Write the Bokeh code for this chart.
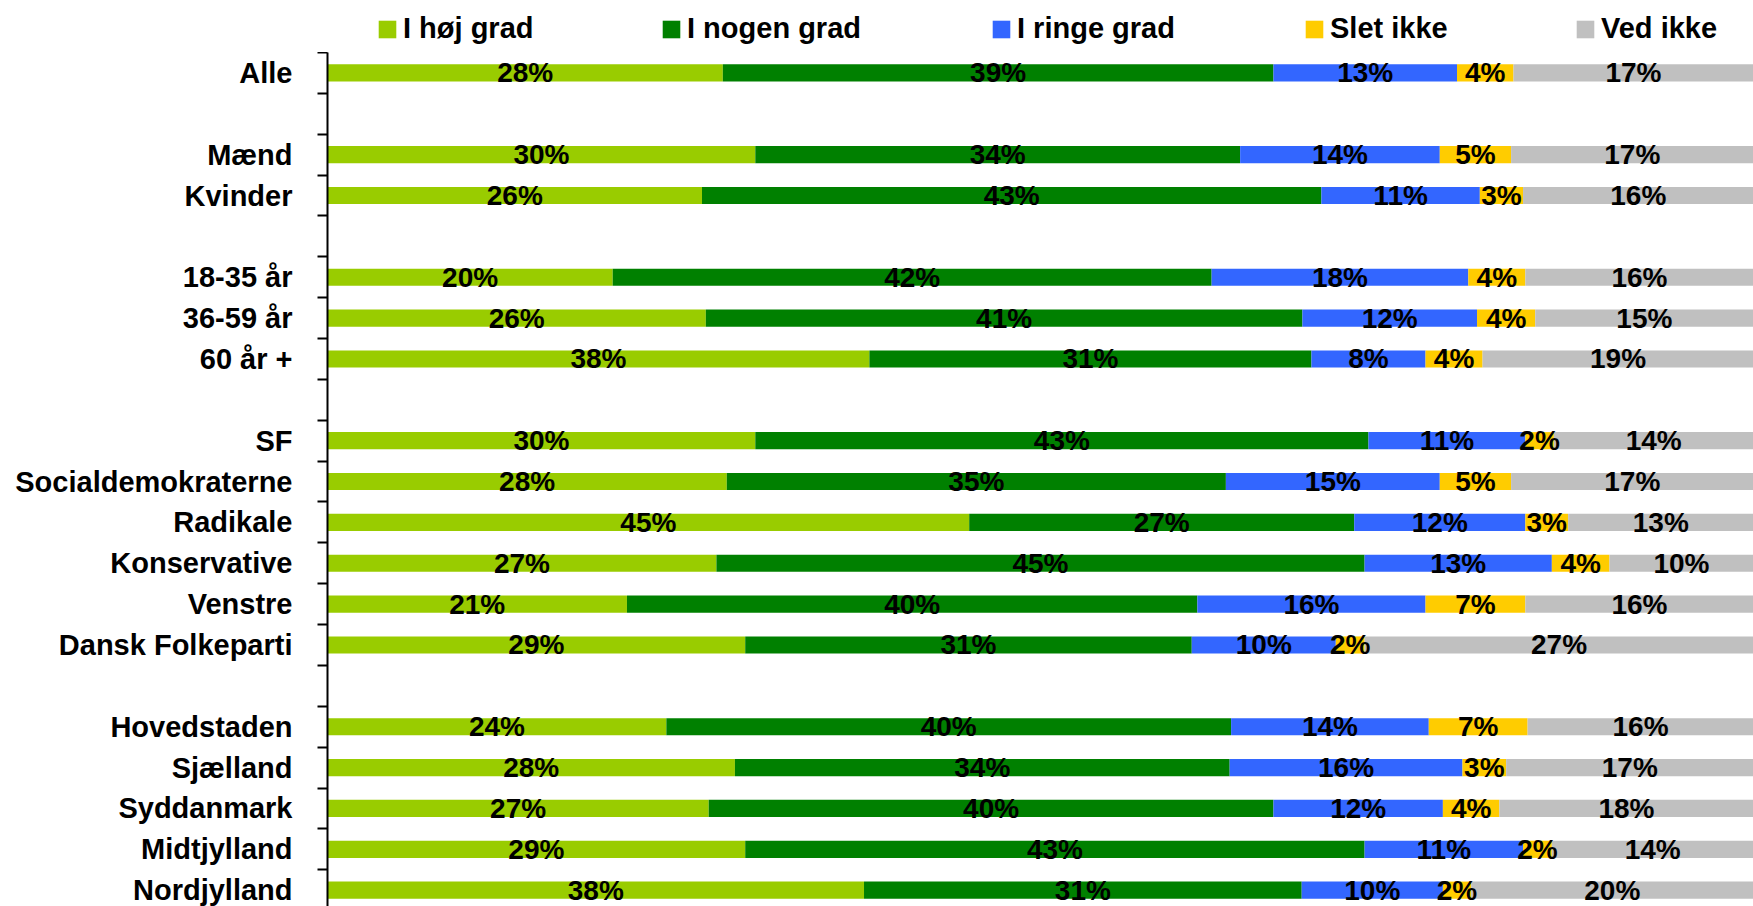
from bokeh.plotting import figure
from bokeh.layouts import column
from bokeh.models import ColumnDataSource, Range1d, FixedTicker, Legend, LegendItem
from bokeh.embed import file_html
from bokeh.resources import INLINE
from bokeh.core.properties import value

# ---------------- data ----------------
categories = ["Alle", "Mænd", "Kvinder", "18-35 år", "36-59 år", "60 år +",
              "SF", "Socialdemokraterne", "Radikale", "Konservative", "Venstre",
              "Dansk Folkeparti", "Hovedstaden", "Sjælland", "Syddanmark",
              "Midtjylland", "Nordjylland"]
group_sizes = [1, 2, 3, 6, 5]  # a blank row separates the groups
series = ["I høj grad", "I nogen grad", "I ringe grad", "Slet ikke", "Ved ikke"]
hoej_grad = [28, 30, 26, 20, 26, 38, 30, 28, 45, 27, 21, 29, 24, 28, 27, 29, 38]
nogen_grad = [39, 34, 43, 42, 41, 31, 43, 35, 27, 45, 40, 31, 40, 34, 40, 43, 31]
ringe_grad = [13, 14, 11, 18, 12, 8, 11, 15, 12, 13, 16, 10, 14, 16, 12, 11, 10]
slet_ikke = [4, 5, 3, 4, 4, 4, 2, 5, 3, 4, 7, 2, 7, 3, 4, 2, 2]
ved_ikke = [17, 17, 16, 16, 15, 19, 14, 17, 13, 10, 16, 27, 16, 17, 18, 14, 20]

# ---------------- styles ----------------
colors = ["#99CC00", "#008000", "#3366FF", "#FFCC00", "#C0C0C0"]
FONT = "Liberation Sans"
W = 1753
LEGEND_H = 52
FRAME_LEFT = 327
legend_x = [376, 660, 990, 1303, 1574]   # screen x of each legend entry

# ---------------- layout of rows ----------------
ypos = []
slot = 0
for n in group_sizes:
    for _ in range(n):
        ypos.append(slot)
        slot += 1
    slot += 1
n_slots = slot - 1

all_series = [hoej_grad, nogen_grad, ringe_grad, slet_ikke, ved_ikke]
data = {"y": ypos}
totals = [sum(vals) for vals in zip(*all_series)]
cum = [0.0] * len(categories)
for i, vals in enumerate(all_series):
    left = cum[:]
    right = [c + v / t * 100 for c, v, t in zip(cum, vals, totals)]
    data[f"l{i}"] = left
    data[f"r{i}"] = right
    data[f"c{i}"] = [(a + b) / 2 for a, b in zip(left, right)]
    data[f"t{i}"] = [f"{v}%" for v in vals]
    cum = right
src = ColumnDataSource(data)

# ---------------- main chart ----------------
p = figure(width=W, height=906 - LEGEND_H, output_backend="svg", toolbar_location=None,
           x_range=Range1d(0, 100), y_range=Range1d(20.4, -0.5),
           min_border_left=FRAME_LEFT, min_border_right=0, min_border_top=0,
           min_border_bottom=0, x_axis_location=None, outline_line_color=None)
p.grid.visible = False
p.background_fill_color = None
p.border_fill_color = "white"

for i in range(len(series)):
    p.hbar(y="y", left=f"l{i}", right=f"r{i}", height=0.42,
           fill_color=colors[i], line_color=None, source=src)
for i in range(len(series)):
    p.text(x=f"c{i}", y="y", text=f"t{i}", text_align="center",
           text_baseline="middle", text_font=value(FONT), text_font_style="bold",
           text_font_size="28px", text_color="black", source=src)

ax = p.yaxis[0]
ax.ticker = FixedTicker(ticks=ypos, minor_ticks=[b - 0.5 for b in range(n_slots + 1)])
ax.major_label_overrides = {y: c for y, c in zip(ypos, categories)}
ax.axis_line_width = 2
ax.axis_line_color = "black"
ax.major_tick_out = 0
ax.major_tick_in = 0
ax.minor_tick_out = 10
ax.minor_tick_in = 0
ax.minor_tick_line_width = 2
ax.minor_tick_line_color = "black"
ax.major_label_standoff = 25
ax.major_label_text_font = FONT
ax.major_label_text_font_size = "29px"
ax.major_label_text_font_style = "bold"
ax.major_label_text_color = "black"

# ---------------- legend strip (frame aligned with the main chart) ----------------
lg_fig = figure(width=W, height=LEGEND_H, output_backend="svg", toolbar_location=None,
                x_range=Range1d(0, 100), y_range=Range1d(100, 101),
                min_border_left=FRAME_LEFT, min_border_right=0, min_border_top=0,
                min_border_bottom=0, x_axis_location=None, y_axis_location=None,
                outline_line_color=None)
lg_fig.grid.visible = False
lg_fig.background_fill_color = None
lg_fig.border_fill_color = "white"
for i, name in enumerate(series):
    # same bars as the chart, outside this strip's visible range: only the key shows
    r = lg_fig.hbar(y="y", left=f"l{i}", right=f"r{i}", height=0.42,
                    fill_color=colors[i], line_color=None, source=src)
    lg = Legend(items=[LegendItem(label=name, renderers=[r])],
                location=(legend_x[i] - FRAME_LEFT, 7), orientation="horizontal",
                padding=0, margin=0, glyph_width=22, glyph_height=22,
                label_standoff=5, label_text_font=FONT,
                label_text_font_size="29px", label_text_font_style="bold",
                label_text_color="black", border_line_color=None,
                background_fill_alpha=0)
    lg_fig.add_layout(lg, "center")

layout = column(lg_fig, p, spacing=0)
open("out.html", "w").write(file_html(layout, INLINE))
